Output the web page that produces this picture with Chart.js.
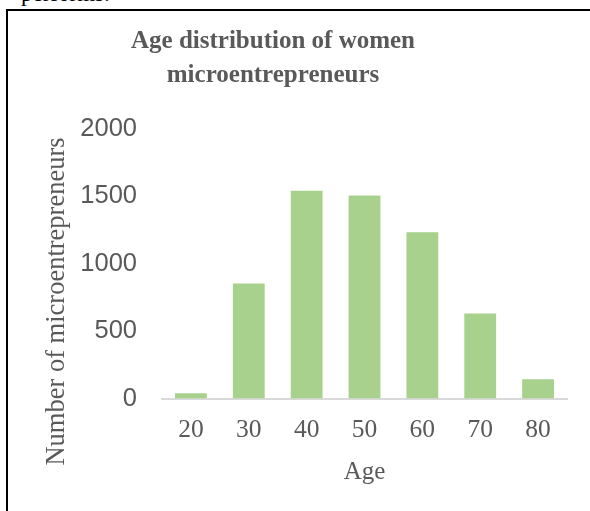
<!DOCTYPE html>
<html>
<head>
<meta charset="utf-8">
<script src="https://cdn.jsdelivr.net/npm/chart.js@4.4.0/dist/chart.umd.min.js"></script>
<style>
    html, body { margin: 0; padding: 0; background: #fff; }
    body { width: 590px; height: 511px; position: relative; overflow: hidden; }
    .prev-line {
        position: absolute; left: 21px; top: -18px;
        font: 23px/23px 'Liberation Serif', serif; color: #000;
    }
    .frame {
        position: absolute; left: 6px; top: 9px; right: -10px; bottom: -10px;
        border-top: 2px solid #000; border-left: 2px solid #000;
    }
    #chart-wrap { position: absolute; left: 8px; top: 11px; width: 582px; height: 500px; }
</style>
</head>
<body>
<div class="prev-line">performs.</div>
<div class="frame"></div>
<div id="chart-wrap"><canvas id="age-chart"></canvas></div>
<script>
// Age distribution of women microentrepreneurs
const ageLabels = ['20', '30', '40', '50', '60', '70', '80'];
const womenCounts = [38, 852, 1538, 1504, 1232, 630, 143];
const yTicks = [0, 500, 1000, 1500, 2000];

const grey = '#595959';

// the original title sits a bit left of the plot centre,
// and the y-axis title a bit below the plot's middle
const offsetTitles = {
    id: 'offsetTitles',
    afterLayout(chart) {
        const t = chart.titleBlock;
        if (t) {
            t.left -= 31;
            t.right -= 31;
        }
        const y = chart.scales.y;
        if (y && !y._titlePatched) {
            const drawTitle = y.drawTitle;
            y.drawTitle = function () {
                const top = this.top, bottom = this.bottom;
                this.top += 38;
                this.bottom += 38;
                drawTitle.call(this);
                this.top = top;
                this.bottom = bottom;
            };
            y._titlePatched = true;
        }
    }
};

new Chart(document.getElementById('age-chart'), {
    type: 'bar',
    data: {
        labels: ageLabels,
        datasets: [{
            label: 'Women microentrepreneurs',
            data: womenCounts,
            backgroundColor: '#a9d18e',
            borderWidth: 0,
            barPercentage: 0.55,
            categoryPercentage: 1.0
        }]
    },
    options: {
        responsive: true,
        maintainAspectRatio: false,
        animation: false,
        layout: {
            padding: { left: 33, right: 23, top: 0, bottom: 24 }
        },
        plugins: {
            legend: { display: false },
            tooltip: { enabled: false },
            title: {
                display: true,
                text: ['Age distribution of women', 'microentrepreneurs'],
                color: grey,
                font: { family: 'Liberation Serif', size: 25, weight: 'bold', lineHeight: 1.36 },
                padding: { top: 14, bottom: 35.5 }
            }
        },
        scales: {
            x: {
                afterFit(axis) { axis.height = 88.5; },
                grid: { display: false, drawTicks: false },
                border: { display: true, color: '#d9d9d9', width: 2 },
                ticks: {
                    color: grey,
                    padding: 16.5,
                    font: { family: 'Liberation Serif', size: 25.5 }
                },
                title: {
                    display: true,
                    text: 'Age',
                    color: grey,
                    padding: { top: 0, bottom: 0 },
                    font: { family: 'Liberation Serif', size: 25 }
                }
            },
            y: {
                min: 0,
                max: 2000,
                afterBuildTicks(axis) {
                    axis.ticks = yTicks.map(v => ({ value: v }));
                },
                afterFit(axis) { axis.width = 121; },
                grid: { display: false, drawTicks: false },
                border: { display: false },
                ticks: {
                    color: grey,
                    padding: 25,
                    font: { family: 'Liberation Sans', size: 25.5 },
                    callback: v => String(v)
                },
                title: {
                    display: true,
                    text: 'Number of microentrepreneurs',
                    color: grey,
                    padding: { top: 0, bottom: 0 },
                    font: { family: 'Liberation Serif', size: 26.5 }
                }
            }
        }
    },
    plugins: [offsetTitles]
});
</script>
</body>
</html>
